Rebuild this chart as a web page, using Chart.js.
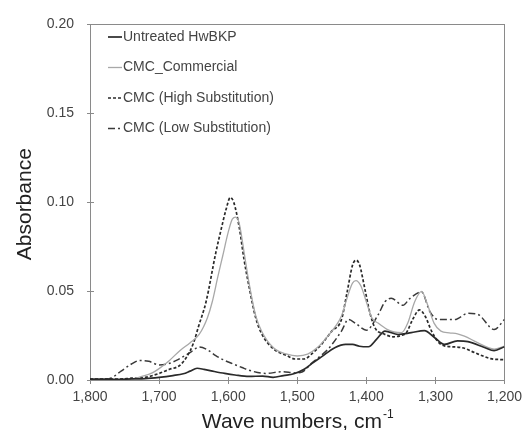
<!DOCTYPE html>
<html>
<head>
<meta charset="utf-8">
<script src="https://cdn.jsdelivr.net/npm/chart.js@4"></script>
<style>
    html, body { margin: 0; padding: 0; background: #fff; }
    #wrap { width: 531px; height: 430px; position: relative; }
</style>
</head>
<body>
<div id="wrap"><canvas id="chart"></canvas></div>
<script>
// wave numbers (cm-1) and absorbance
var untreatedX = [1800, 1780, 1760, 1740, 1720, 1700, 1680, 1665, 1655, 1645, 1635, 1620, 1605, 1590, 1570, 1550, 1535, 1520, 1505, 1490, 1479, 1465, 1445, 1430, 1420, 1410, 1397, 1385, 1373, 1354, 1335, 1316, 1301, 1287, 1268, 1253, 1229, 1215, 1200];
var untreatedY = [0.0005, 0.0005, 0.0003, 0.0006, 0.0008, 0.0015, 0.0025, 0.0035, 0.005, 0.0066, 0.006, 0.0048, 0.0037, 0.0028, 0.002, 0.0022, 0.0015, 0.0025, 0.0035, 0.006, 0.0092, 0.013, 0.0183, 0.020, 0.020, 0.019, 0.0187, 0.023, 0.0275, 0.0256, 0.0266, 0.0278, 0.0238, 0.020, 0.022, 0.0216, 0.0183, 0.0165, 0.0187];

var commercialX = [1800, 1760, 1740, 1725, 1710, 1700, 1685, 1670, 1655, 1642, 1630, 1623, 1615, 1608, 1600, 1594, 1589, 1584, 1577, 1570, 1560, 1551, 1534, 1515, 1500, 1485, 1470, 1455, 1445, 1436, 1428, 1420, 1415, 1408, 1400, 1392, 1383, 1370, 1360, 1349, 1340, 1330, 1320, 1312, 1302, 1292, 1280, 1268, 1258, 1239, 1215, 1200];
var commercialY = [0, 0, 0.0005, 0.002, 0.004, 0.0064, 0.011, 0.0165, 0.021, 0.0256, 0.035, 0.044, 0.058, 0.0696, 0.083, 0.0905, 0.0916, 0.088, 0.072, 0.055, 0.036, 0.027, 0.018, 0.0145, 0.0135, 0.0145, 0.0185, 0.025, 0.030, 0.036, 0.046, 0.0545, 0.0559, 0.053, 0.044, 0.035, 0.032, 0.0285, 0.027, 0.0266, 0.032, 0.044, 0.0498, 0.043, 0.032, 0.0275, 0.0265, 0.026, 0.0247, 0.021, 0.0174, 0.019];

var highX = [1800, 1760, 1740, 1720, 1700, 1685, 1670, 1660, 1650, 1643, 1632, 1618, 1610, 1603, 1597, 1592, 1584, 1577, 1570, 1560, 1551, 1534, 1515, 1503, 1490, 1479, 1465, 1450, 1436, 1428, 1420, 1415, 1410, 1402, 1395, 1387, 1375, 1361, 1350, 1342, 1333, 1323, 1315, 1305, 1295, 1287, 1263, 1239, 1220, 1200];
var highY = [0.0005, 0.0005, 0.001, 0.0015, 0.0037, 0.006, 0.0082, 0.013, 0.021, 0.030, 0.044, 0.0714, 0.085, 0.096, 0.1026, 0.100, 0.086, 0.0678, 0.053, 0.0348, 0.0256, 0.0174, 0.0137, 0.0118, 0.0118, 0.0147, 0.020, 0.0275, 0.034, 0.049, 0.0645, 0.0674, 0.065, 0.051, 0.038, 0.029, 0.026, 0.0243, 0.025, 0.0266, 0.034, 0.0394, 0.036, 0.027, 0.021, 0.0192, 0.0183, 0.0147, 0.012, 0.0114];

var lowX = [1800, 1780, 1770, 1755, 1740, 1728, 1715, 1700, 1688, 1675, 1656, 1642, 1630, 1618, 1605, 1594, 1580, 1570, 1546, 1522, 1503, 1493, 1479, 1465, 1455, 1436, 1426, 1416, 1400, 1383, 1373, 1364, 1347, 1337, 1320, 1308, 1296, 1272, 1253, 1239, 1215, 1200];
var lowY = [0, 0.0003, 0.001, 0.005, 0.009, 0.011, 0.0105, 0.0085, 0.009, 0.011, 0.0152, 0.0185, 0.017, 0.0137, 0.011, 0.0092, 0.007, 0.0055, 0.0037, 0.0046, 0.004, 0.0045, 0.0095, 0.014, 0.0175, 0.0275, 0.034, 0.032, 0.028, 0.0366, 0.044, 0.046, 0.042, 0.0458, 0.0495, 0.0385, 0.034, 0.034, 0.0375, 0.037, 0.0284, 0.034];

var seriesNames = ['Untreated HwBKP', 'CMC_Commercial', 'CMC (High Substitution)', 'CMC (Low Substitution)'];
var xTicks = [1800, 1700, 1600, 1500, 1400, 1300, 1200];
var yTicks = [0, 0.05, 0.10, 0.15, 0.20];

var FONT = "'Liberation Sans', Arial, sans-serif";
var AXIS_COLOR = '#8a8a8a';
var TEXT_COLOR = '#444';

function toPoints(xs, ys) {
    var pts = [];
    for (var i = 0; i < xs.length; i++) {
        pts.push({ x: xs[i], y: ys[i] });
    }
    return pts;
}

/// frame, crossing tick marks, axis titles and the in-plot legend
var decorations = {
    id: 'decorations',
    beforeDatasetsDraw: function (chart) {
        const ctx = chart.ctx;
        const area = chart.chartArea;
        const xs = chart.scales.x;
        const ys = chart.scales.y;
        ctx.save();
        ctx.strokeStyle = AXIS_COLOR;
        ctx.lineWidth = 1;
        ctx.strokeRect(Math.round(area.left) + 0.5, Math.round(area.top) + 0.5,
            Math.round(area.right - area.left), Math.round(area.bottom - area.top));
        ctx.beginPath();
        xTicks.forEach(function (v) {
            const px = Math.round(xs.getPixelForValue(v)) + 0.5;
            ctx.moveTo(px, area.bottom - 3);
            ctx.lineTo(px, area.bottom + 4);
        });
        yTicks.forEach(function (v) {
            const py = Math.round(ys.getPixelForValue(v)) + 0.5;
            ctx.moveTo(area.left - 3, py);
            ctx.lineTo(area.left + 4, py);
        });
        ctx.stroke();
        ctx.restore();
    },
    afterDraw: function (chart) {
        const ctx = chart.ctx;
        const area = chart.chartArea;
        ctx.save();
        ctx.fillStyle = '#222';

        // x title with superscript
        const main = 'Wave numbers, cm';
        const sup = '-1';
        ctx.font = '21px ' + FONT;
        const wMain = ctx.measureText(main).width;
        ctx.font = '12px ' + FONT;
        const wSup = ctx.measureText(sup).width;
        const cx = (area.left + area.right) / 2;
        const startX = cx - (wMain + wSup) / 2;
        ctx.textBaseline = 'alphabetic';
        ctx.textAlign = 'left';
        ctx.font = '21px ' + FONT;
        ctx.fillText(main, startX, 428);
        ctx.font = '12px ' + FONT;
        ctx.fillText(sup, startX + wMain + 1, 418);

        // y title
        ctx.translate(31, (area.top + area.bottom) / 2 + 2);
        ctx.rotate(-Math.PI / 2);
        ctx.font = '21px ' + FONT;
        ctx.textAlign = 'center';
        ctx.fillText('Absorbance', 0, 0);
        ctx.restore();

        // legend inside plot
        ctx.save();
        ctx.font = '14px ' + FONT;
        ctx.textBaseline = 'middle';
        ctx.fillStyle = TEXT_COLOR;
        chart.data.datasets.forEach(function (ds, i) {
            const y = 37 + i * 30.5;
            ctx.beginPath();
            ctx.strokeStyle = ds.borderColor;
            ctx.lineWidth = ds.borderWidth;
            ctx.setLineDash(ds.borderDash || []);
            ctx.moveTo(108, y);
            ctx.lineTo(122, y);
            ctx.stroke();
            ctx.setLineDash([]);
            ctx.fillText(ds.label, 123, y);
        });
        ctx.restore();
    }
};

const canvas = document.getElementById('chart');

const data = {
    datasets: [
        {
            label: seriesNames[0],
            data: toPoints(untreatedX, untreatedY),
            borderColor: '#2a2a2a',
            borderWidth: 1.7,
        },
        {
            label: seriesNames[1],
            data: toPoints(commercialX, commercialY),
            borderColor: '#a8a8a8',
            borderWidth: 1.3,
        },
        {
            label: seriesNames[2],
            data: toPoints(highX, highY),
            borderColor: '#2a2a2a',
            borderWidth: 1.7,
            borderDash: [3, 2],
        },
        {
            label: seriesNames[3],
            data: toPoints(lowX, lowY),
            borderColor: '#3a3a3a',
            borderWidth: 1.5,
            borderDash: [7, 3, 2, 3],
        }
    ]
};

const config = {
    type: 'line',
    data: data,
    options: {
        responsive: true,
        maintainAspectRatio: false,
        animation: false,
        parsing: false,
        elements: {
            point: { radius: 0 },
            line: { tension: 0.4, cubicInterpolationMode: 'monotone', fill: false }
        },
        layout: {
            padding: { left: 0, right: 24, top: 16, bottom: 0 }
        },
        scales: {
            x: {
                type: 'linear',
                reverse: true,
                min: 1200,
                max: 1800,
                afterFit: function (scale) { scale.height = 50; },
                afterBuildTicks: function (scale) {
                    scale.ticks = xTicks.map(function (v) { return { value: v }; });
                },
                grid: { display: false, drawTicks: false },
                border: { display: false },
                ticks: {
                    padding: 9,
                    color: TEXT_COLOR,
                    font: { family: FONT, size: 14 },
                    maxRotation: 0,
                    callback: function (v) { return v.toLocaleString('en-US'); }
                }
            },
            y: {
                min: 0,
                max: 0.2,
                afterFit: function (scale) { scale.width = 90; },
                afterBuildTicks: function (scale) {
                    scale.ticks = yTicks.map(function (v) { return { value: v }; });
                },
                grid: { display: false, drawTicks: false },
                border: { display: false },
                ticks: {
                    padding: 16,
                    color: TEXT_COLOR,
                    font: { family: FONT, size: 14 },
                    callback: function (v) { return v.toFixed(2); }
                }
            }
        },
        plugins: {
            legend: { display: false },
            tooltip: { enabled: false }
        }
    },
    plugins: [decorations]
};

const jsChart = new Chart(canvas, config);
</script>
</body>
</html>
